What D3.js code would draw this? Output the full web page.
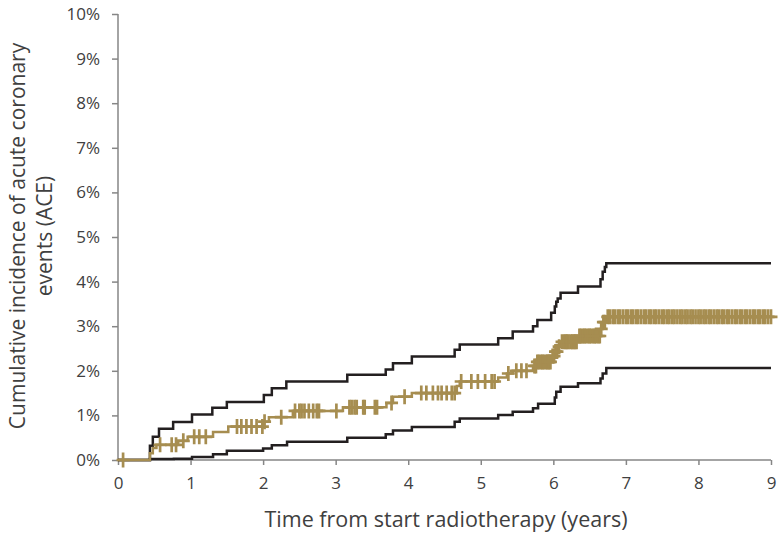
<!DOCTYPE html>
<html>
<head>
<meta charset="utf-8">
<script src="https://cdn.jsdelivr.net/npm/d3@7"></script>
<style>
  body { margin: 0; background: #fff; }
  svg text { font-family: "Open Sans", Lato, sans-serif; fill: #404040; }
</style>
</head>
<body>
<div class="chart"></div>
<script>
// step data: [years, cumulative incidence %]
const estimate = [[0,0],[0.44,0.15],[0.48,0.27],[0.53,0.34],[0.83,0.43],[0.96,0.52],[1.31,0.63],[1.52,0.75],
  [2.01,0.86],[2.08,0.96],[2.41,1.10],[3.10,1.18],[3.70,1.28],[3.79,1.42],[4.05,1.50],[4.67,1.66],[4.71,1.76],
  [5.24,1.85],[5.36,1.94],[5.44,2.00],[5.72,2.11],[5.77,2.20],[5.97,2.33],[6.02,2.43],[6.06,2.54],[6.10,2.65],
  [6.34,2.78],[6.65,2.94],[6.68,3.09],[6.73,3.21],[9,3.21]];

const upper = [[0,0],[0.44,0.32],[0.48,0.52],[0.565,0.70],[0.76,0.85],[1.02,1.02],[1.30,1.17],[1.50,1.30],
  [2.01,1.46],[2.12,1.61],[2.32,1.76],[3.16,1.91],[3.69,2.03],[3.79,2.17],[4.05,2.32],[4.64,2.47],[4.71,2.59],
  [5.24,2.73],[5.44,2.88],[5.72,3.00],[5.78,3.14],[5.97,3.30],[6.02,3.44],[6.04,3.55],[6.06,3.62],[6.10,3.75],
  [6.34,3.89],[6.65,4.05],[6.68,4.22],[6.71,4.33],[6.73,4.41],[9,4.41]];

const lower = [[0,0],[0.44,0.02],[0.77,0.03],[1.02,0.07],[1.31,0.13],[1.50,0.21],[2.00,0.26],[2.12,0.33],
  [2.33,0.41],[3.16,0.50],[3.69,0.58],[3.79,0.66],[4.05,0.74],[4.64,0.86],[4.71,0.93],[5.24,1.01],[5.44,1.08],
  [5.72,1.16],[5.79,1.26],[6.02,1.40],[6.04,1.53],[6.10,1.64],[6.34,1.72],[6.65,1.83],[6.68,1.94],[6.73,2.06],[9,2.06]];

// censored observations (years)
const censored = [0.07, 0.58, 0.74, 0.80, 0.90, 1.05, 1.12, 1.21, 1.64, 1.70, 1.77, 1.84, 1.91, 1.99, 2.02,
  2.25, 2.44, 2.50, 2.53, 2.57, 2.63, 2.69, 2.74, 2.77, 3.01, 3.19, 3.22, 3.26, 3.29, 3.38, 3.40, 3.54, 3.57,
  3.77, 3.95, 4.18, 4.25, 4.34, 4.41, 4.46, 4.53, 4.60, 4.64, 4.73, 4.87, 4.96, 5.06, 5.15, 5.19, 5.38, 5.49,
  5.56, 5.63, 5.74, 5.76, 5.78, 5.80, 5.83, 5.85, 5.87, 5.90, 5.92, 5.94, 5.96, 5.99, 6.01, 6.03, 6.05, 6.08,
  6.12, 6.15, 6.17, 6.19, 6.21, 6.24, 6.26, 6.28, 6.30, 6.32, 6.36, 6.38, 6.41, 6.43, 6.45, 6.48, 6.50, 6.52,
  6.55, 6.57, 6.59, 6.62, 6.64, 6.66, 6.69, 6.71, 6.75, 6.78, 6.82, 6.85, 6.89, 6.92, 6.96, 7.00, 7.03, 7.07,
  7.10, 7.14, 7.17, 7.21, 7.25, 7.28, 7.32, 7.35, 7.39, 7.42, 7.46, 7.50, 7.53, 7.57, 7.60, 7.64, 7.67, 7.71,
  7.75, 7.78, 7.82, 7.85, 7.89, 7.92, 7.96, 8.00, 8.03, 8.07, 8.10, 8.14, 8.17, 8.21, 8.25, 8.28, 8.32, 8.35,
  8.39, 8.42, 8.46, 8.50, 8.53, 8.57, 8.60, 8.64, 8.67, 8.71, 8.75, 8.78, 8.82, 8.85, 8.89, 8.92, 8.96, 9.00];

const xTicks = [0,1,2,3,4,5,6,7,8,9];
const yTicks = [0,1,2,3,4,5,6,7,8,9,10];

const W = 779, H = 535;
const gold = "#a68d50", dark = "#231f20", axisCol = "#868686";

const svg = d3.select('.chart').append('svg')
    .attr('width', W)
    .attr('height', H);

const x = d3.scaleLinear().domain([0, 9]).range([118, 771]);
const y = d3.scaleLinear().domain([0, 10]).range([460, 14]);

// y axis
const yAxis = svg.append("g")
    .attr("transform", "translate(118,0)")
    .call(d3.axisLeft(y).tickValues(yTicks).tickSize(6).tickPadding(12).tickFormat(d => d + "%"));
// x axis
const xAxis = svg.append("g")
    .attr("transform", "translate(0,460)")
    .call(d3.axisBottom(x).tickValues(xTicks).tickSize(5).tickPadding(12));

[yAxis, xAxis].forEach(g => {
    g.select(".domain").attr("stroke", axisCol).attr("stroke-width", 1.5);
    g.selectAll(".tick line").attr("stroke", axisCol).attr("stroke-width", 1.5);
    g.selectAll(".tick text").attr("font-family", null).attr("font-size", 17).attr("fill", "#404040");
});
yAxis.select(".domain").attr("d", "M0,14V460");
xAxis.select(".domain").attr("d", "M118,0H771");

const line = d3.line()
    .x(d => x(d[0]))
    .y(d => y(d[1]))
    .curve(d3.curveStepAfter);

svg.append("path").datum(lower)
    .attr("fill", "none").attr("stroke", dark).attr("stroke-width", 2.5).attr("d", line);
svg.append("path").datum(upper)
    .attr("fill", "none").attr("stroke", dark).attr("stroke-width", 2.5).attr("d", line);
svg.append("path").datum(estimate)
    .attr("fill", "none").attr("stroke", gold).attr("stroke-width", 2.5).attr("d", line);

// censor marks sit on the estimate curve
const bis = d3.bisector(d => d[0]).right;
const valueAt = t => estimate[Math.max(0, bis(estimate, t) - 1)][1];

const marks = svg.append("g").attr("stroke", gold).attr("stroke-width", 2.7);
censored.forEach(t => {
    const cx = x(t), cy = y(valueAt(t));
    marks.append("path").attr("d", `M${cx},${cy - 7.5}V${cy + 7.5}M${cx - 6.5},${cy}H${cx + 6.5}`);
});

// titles
svg.append("text")
    .attr("x", 446).attr("y", 527)
    .attr("text-anchor", "middle")
    .attr("font-size", 21.5)
    .text("Time from start radiotherapy (years)");

const yt = svg.append("text")
    .attr("transform", "translate(0,236) rotate(-90)")
    .attr("text-anchor", "middle")
    .attr("font-size", 21);
yt.append("tspan").attr("x", 0).attr("y", 25).text("Cumulative incidence of acute coronary");
yt.append("tspan").attr("x", 0).attr("y", 52).text("events (ACE)");
</script>
</body>
</html>
